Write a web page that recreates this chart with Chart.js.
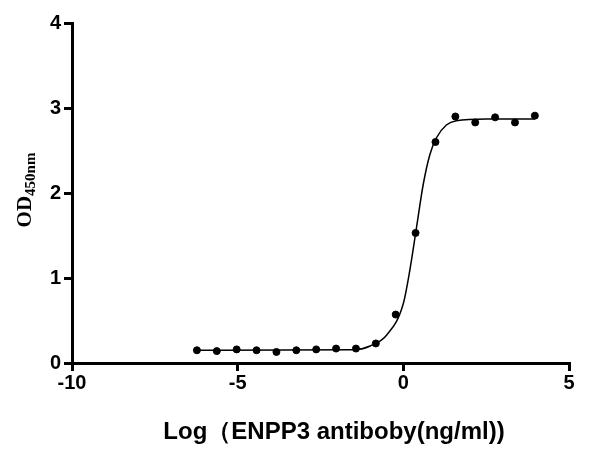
<!DOCTYPE html>
<html>
<head>
<meta charset="utf-8">
<script src="https://cdn.jsdelivr.net/npm/chart.js@4"></script>
<style>
  body { margin: 0; background: #fff; }
  #wrap { width: 600px; height: 450px; }
</style>
</head>
<body>
<div id="wrap"><canvas id="myChart"></canvas></div>
<script>
// measured points (log conc, OD450)
const logConc = [-6.23, -5.63, -5.03, -4.43, -3.83, -3.23, -2.63, -2.03, -1.43,
                 -0.83, -0.23, 0.37, 0.97, 1.57, 2.17, 2.77, 3.37, 3.97];
const od = [0.15, 0.14, 0.16, 0.15, 0.13, 0.15, 0.16, 0.17, 0.17,
            0.23, 0.57, 1.53, 2.60, 2.90, 2.83, 2.89, 2.83, 2.91];
// fitted curve
const curveX = [-6.23, -1.5, -1.0, -0.5, 0.0, 0.2, 0.4, 0.6, 0.8, 1.0, 1.3, 1.6, 2.5, 3.97];
const curveY = [0.15, 0.155, 0.2, 0.33, 0.7, 1.1, 1.6, 2.1, 2.45, 2.65, 2.8, 2.85, 2.87, 2.87];
const xTicks = [-10, -5, 0, 5];
const yTicks = [0, 1, 2, 3, 4];

const tickFont = { family: 'Liberation Sans', size: 20, weight: 'bold' };

const titles = {
  id: 'titles',
  afterDraw(chart) {
    const c = chart.ctx;
    c.save();
    c.fillStyle = '#000';
    c.font = 'bold 24px "Liberation Sans"';
    c.textAlign = 'center';
    c.textBaseline = 'alphabetic';
    c.fillText('Log（ENPP3 antiboby(ng/ml))', 334, 439);
    c.translate(24, 190);
    c.rotate(-Math.PI / 2);
    c.font = 'bold 21px "Liberation Serif"';
    const w1 = c.measureText('OD').width;
    c.font = 'bold 15px "Liberation Serif"';
    const w2 = c.measureText('450nm').width;
    let x0 = -(w1 + w2) / 2;
    c.textAlign = 'left';
    c.font = 'bold 21px "Liberation Serif"';
    c.fillText('OD', x0, 7);
    c.font = 'bold 15px "Liberation Serif"';
    c.fillText('450nm', x0 + w1, 11);
    c.restore();
  }
};

const axisGrid = { display: true, drawOnChartArea: false, drawTicks: true, tickLength: 8, lineWidth: 3, color: '#000' };

new Chart(document.getElementById('myChart'), {
  type: 'scatter',
  data: {
    datasets: [
      {
        data: logConc.map((x, i) => ({ x: x, y: od[i] })),
        backgroundColor: '#000', borderColor: '#000',
        pointRadius: 3.5, showLine: false
      },
      {
        data: curveX.map((x, i) => ({ x: x, y: curveY[i] })),
        borderColor: '#000', borderWidth: 1.5, pointRadius: 0,
        showLine: true, cubicInterpolationMode: 'monotone'
      }
    ]
  },
  options: {
    responsive: true, maintainAspectRatio: false, animation: false,
    layout: { padding: { top: 23, right: 31 } },
    plugins: { legend: { display: false }, tooltip: { enabled: false } },
    scales: {
      x: {
        min: -10, max: 5,
        afterBuildTicks: s => { s.ticks = xTicks.map(v => ({ value: v })); },
        afterFit: s => { s.height = 87; },
        grid: axisGrid,
        border: { color: '#000', width: 3 },
        ticks: { color: '#000', font: tickFont, padding: 0 }
      },
      y: {
        min: 0, max: 4,
        afterBuildTicks: s => { s.ticks = yTicks.map(v => ({ value: v })); },
        afterFit: s => { s.width = 72; },
        grid: axisGrid,
        border: { color: '#000', width: 3 },
        ticks: { color: '#000', font: tickFont, padding: 3 }
      }
    }
  },
  plugins: [titles]
});
</script>
</body>
</html>
